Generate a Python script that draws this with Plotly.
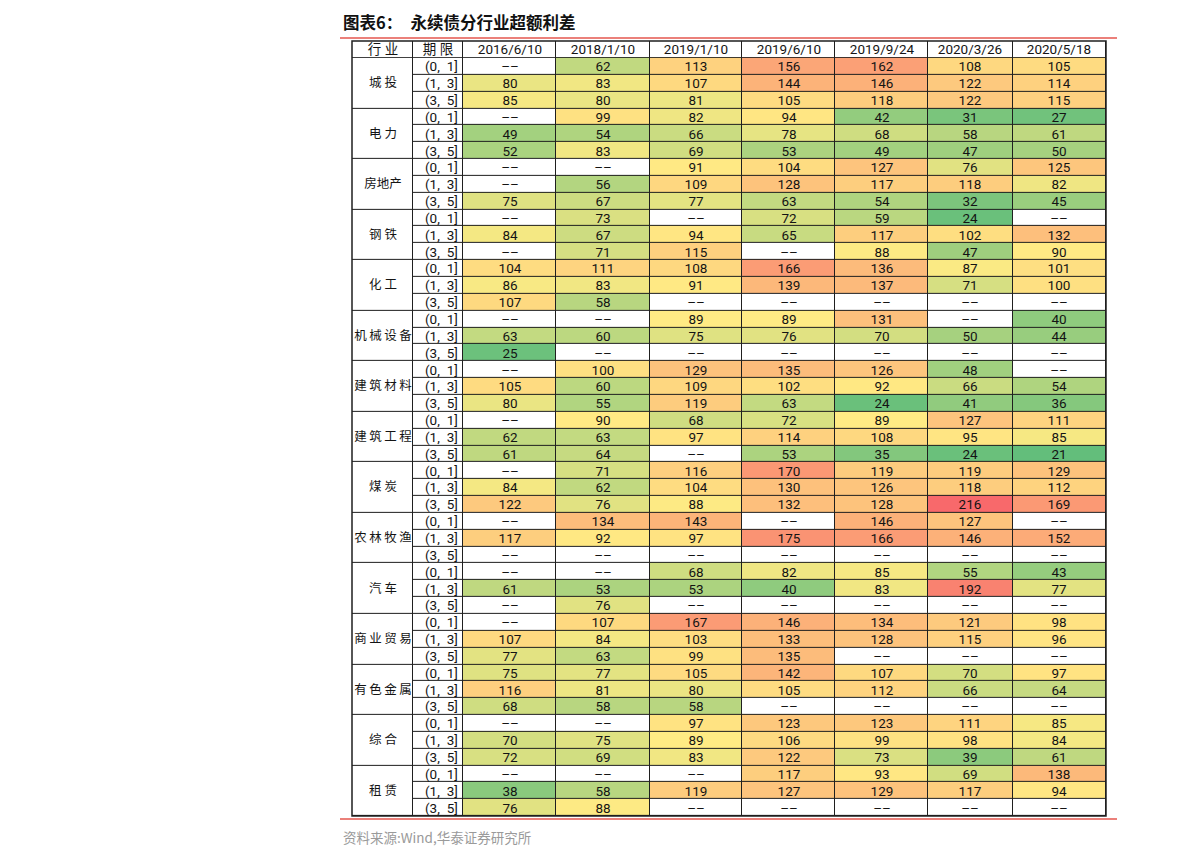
import numpy as np
import plotly.graph_objects as go

# ---------------- data ----------------
title_text = "图表6：\u2002永续债分行业超额利差"
source_text = "资料来源:Wind,华泰证券研究所"
header_labels = ["行 业", "期 限"]
dates = ["2016/6/10", "2018/1/10", "2019/1/10", "2019/6/10",
         "2019/9/24", "2020/3/26", "2020/5/18"]
industries = ["城投", "电力", "房地产", "钢铁", "化工", "机械设备", "建筑材料",
              "建筑工程", "煤炭", "农林牧渔", "汽车", "商业贸易", "有色金属",
              "综合", "租赁"]
tenors = ["(0, 1]", "(1, 3]", "(3, 5]"]
missing_label = "\u2013\u2013"

N = None
v_2016_06_10 = [N, 80, 85,  N, 49, 52,  N, N, 75,  N, 84, N,  104, 86, 107,
                N, 63, 25,  N, 105, 80,  N, 62, 61,  N, 84, 122,  N, 117, N,
                N, 61, N,  N, 107, 77,  75, 116, 68,  N, 70, 72,  N, 38, 76]
v_2018_01_10 = [62, 83, 80,  99, 54, 83,  N, 56, 67,  73, 67, 71,  111, 83, 58,
                N, 60, N,  100, 60, 55,  90, 63, 64,  71, 62, 76,  134, 92, N,
                N, 53, 76,  107, 84, 63,  77, 81, 58,  N, 75, 69,  N, 58, 88]
v_2019_01_10 = [113, 107, 81,  82, 66, 69,  91, 109, 77,  N, 94, 115,  108, 91, N,
                89, 75, N,  129, 109, 119,  68, 97, N,  116, 104, 88,  143, 97, N,
                68, 53, N,  167, 103, 99,  105, 80, 58,  97, 89, 83,  N, 119, N]
v_2019_06_10 = [156, 144, 105,  94, 78, 53,  104, 128, 63,  72, 65, N,  166, 139, N,
                89, 76, N,  135, 102, 63,  72, 114, 53,  170, 130, 132,  N, 175, N,
                82, 40, N,  146, 133, 135,  142, 105, N,  123, 106, 122,  117, 127, N]
v_2019_09_24 = [162, 146, 118,  42, 68, 49,  127, 117, 54,  59, 117, 88,  136, 137, N,
                131, 70, N,  126, 92, 24,  89, 108, 35,  119, 126, 128,  146, 166, N,
                85, 83, N,  134, 128, N,  107, 112, N,  123, 99, 73,  93, 129, N]
v_2020_03_26 = [108, 122, 122,  31, 58, 47,  76, 118, 32,  24, 102, 47,  87, 71, N,
                N, 50, N,  48, 66, 41,  127, 95, 24,  119, 118, 216,  127, 146, N,
                55, 192, N,  121, 115, N,  70, 66, N,  111, 98, 39,  69, 117, N]
v_2020_05_18 = [105, 114, 115,  27, 61, 50,  125, 82, 45,  N, 132, 90,  101, 100, N,
                40, 44, N,  N, 54, 36,  111, 85, 21,  129, 112, 169,  N, 152, N,
                43, 77, N,  98, 96, N,  97, 64, N,  85, 84, 61,  138, 94, N]

series = [v_2016_06_10, v_2018_01_10, v_2019_01_10, v_2019_06_10,
          v_2019_09_24, v_2020_03_26, v_2020_05_18]

# ---------------- layout constants ----------------
# the page body has an 8px margin, so the figure is drawn 8px right/down
OFF = 8
W, H = 1191 - 2 * OFF, 864 - 2 * OFF
TL, TR, TT, TB = 352, 1106, 41, 816          # table edges in window pixels
ML, MR, MT, MB = TL - OFF, W - (TR - OFF), TT - OFF, H - (TB - OFF)
col_widths = [61, 50, 93.3, 93.3, 92.4, 93.3, 92.7, 84.6, 93.4]
x_edges = np.concatenate([[0], np.cumsum(col_widths)])
n_rows = len(industries) * len(tenors)
CJK = "Noto Sans CJK SC"
NUM = "Roboto, Noto Sans CJK SC"
GRID = "#1f1f1f"
INK = "#141414"

plot_w = W - ML - MR
plot_h = H - MT - MB


def px_x(p):
    return (p - OFF - ML) / plot_w


def px_y(p):
    return 1 - (p - OFF - MT) / plot_h


def spaced(name):
    if len(name) == 2:
        return " ".join(name)
    if len(name) == 4:
        return "\u2009".join(name)
    return name


# ---------------- matrices ----------------
Z = np.array([[np.nan if v is None else v for v in s] for s in series], dtype=float).T
missing = np.isnan(Z)
cell_text = [[missing_label if s[r] is None else str(s[r]) for s in series]
             for r in range(n_rows)]

vmin, vmax = np.nanmin(Z), np.nanmax(Z)
vmid = np.nanmedian(Z)
zlow = vmin - 1
Zc = np.where(missing, zlow, Z)
span = vmax - zlow
s0 = (vmin - zlow) / span
smid = (vmid - zlow) / span
colorscale = [[0, "#FFFFFF"], [s0 * 0.999, "#FFFFFF"], [s0, "#63BE7B"],
              [smid, "#FFEB84"], [1, "#F8696B"]]
white = [[0, "#FFFFFF"], [1, "#FFFFFF"]]

row_edges = np.arange(1, n_rows + 2)
group_edges = np.arange(1, n_rows + 2, len(tenors))

common = dict(xgap=1, ygap=1, showscale=False, hoverinfo="skip",
              texttemplate="%{text}")

fig = go.Figure()

# header row
fig.add_trace(go.Heatmap(
    x=x_edges, y=[0, 1], z=[[0] * len(col_widths)], colorscale=white,
    text=[header_labels + dates],
    textfont=dict(family=NUM, size=13.5, color=INK), **common))

# industry column (merged groups)
fig.add_trace(go.Heatmap(
    x=x_edges[0:2], y=group_edges, z=[[0] for _ in industries], colorscale=white,
    text=[[spaced(s)] for s in industries],
    textfont=dict(family=CJK, size=12.5, color=INK), **common))

# tenor column
fig.add_trace(go.Heatmap(
    x=x_edges[1:3], y=row_edges, z=[[0] for _ in range(n_rows)], colorscale=white,
    text=[["\u2002" + tenors[r % len(tenors)].replace(", ", ",\u2002")]
          for r in range(n_rows)],
    textfont=dict(family=NUM, size=13.5, color=INK), **common))

# data cells
fig.add_trace(go.Heatmap(
    x=x_edges[2:], y=row_edges, z=Zc, colorscale=colorscale,
    zmin=zlow, zmax=vmax, text=cell_text,
    textfont=dict(family=NUM, size=13.5, color=INK), **common))

fig.update_layout(
    width=W, height=H,
    margin=dict(l=ML, r=MR, t=MT, b=MB),
    paper_bgcolor="white", plot_bgcolor=GRID,
    xaxis=dict(range=[0, x_edges[-1]], visible=False, fixedrange=True),
    yaxis=dict(range=[n_rows + 1, 0], visible=False, fixedrange=True),
    showlegend=False,
    shapes=[
        dict(type="rect", xref="paper", yref="paper", x0=0, x1=1, y0=0, y1=1,
             line=dict(color=GRID, width=1.5)),
        dict(type="line", xref="paper", yref="paper", x0=px_x(340), x1=px_x(1117),
             y0=px_y(38), y1=px_y(38), line=dict(color="#E4564E", width=1.5)),
        dict(type="line", xref="paper", yref="paper", x0=px_x(340), x1=px_x(1117),
             y0=px_y(819), y1=px_y(819), line=dict(color="#E4564E", width=1.5)),
    ],
    annotations=[
        dict(text="<b>" + title_text + "</b>", xref="paper", yref="paper",
             x=px_x(341), y=px_y(22), xanchor="left", yanchor="middle",
             showarrow=False, font=dict(family=CJK, size=16.5, color="#111")),
        dict(text=source_text, xref="paper", yref="paper",
             x=px_x(341), y=px_y(837), xanchor="left", yanchor="middle",
             showarrow=False, font=dict(family=CJK, size=13.5, color="#9a9a9a")),
    ],
)

fig.write_html("out.html")
